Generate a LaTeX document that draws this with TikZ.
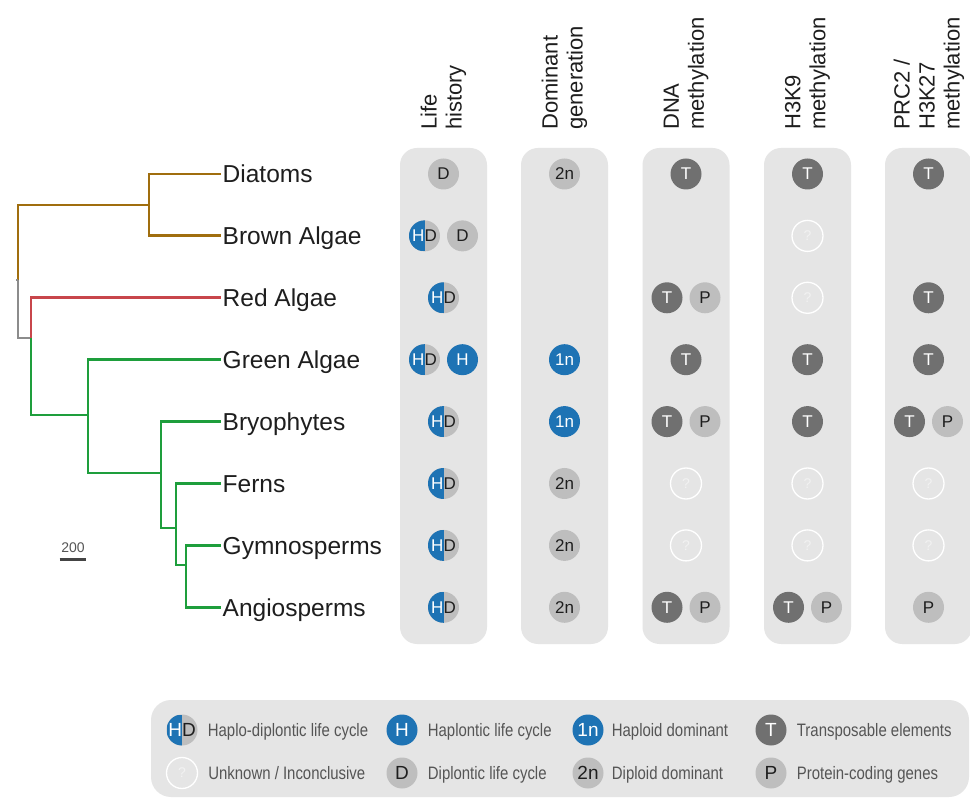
\documentclass[tikz,border=0pt]{standalone}
\usepackage{fontspec}
\setmainfont{Liberation Sans}
\newfontfamily\condfont[FakeStretch=0.83]{Liberation Sans}
\usetikzlibrary{positioning}

\definecolor{panelgray}{RGB}{229,229,229}
\definecolor{hblue}{RGB}{30,115,180}
\definecolor{tdark}{RGB}{112,112,112}
\definecolor{tlight}{RGB}{190,190,190}
\definecolor{qmark}{RGB}{242,242,242}
\definecolor{txtdark}{RGB}{30,30,30}
\definecolor{legtext}{RGB}{85,85,85}
\definecolor{brnb}{RGB}{160,110,14}
\definecolor{redb}{RGB}{200,70,75}
\definecolor{grnb}{RGB}{30,158,60}
\definecolor{gryb}{RGB}{140,140,140}

\newcommand\leaffont{\fontsize{24.5}{28}\selectfont}
\newcommand\headfont{\fontsize{22}{25}\selectfont}
\newcommand\tokfont{\fontsize{17}{17}\selectfont}
\newcommand\legfont{\condfont\fontsize{18}{20}\selectfont}

\begin{document}
\begin{tikzpicture}[
    x=1pt, y=-1pt,
    branch/.style={line width=2.9pt},
    brnline/.style={branch, draw=brnb},
    redline/.style={branch, draw=redb},
    grnline/.style={branch, draw=grnb},
    gryline/.style={branch, draw=gryb},
    leaf/.style={
        anchor=west,
        inner sep=1.5pt,
        font=\leaffont,
        text=txtdark,
        text height=17.5pt,
        text depth=0pt
    },
    head/.style={
        rotate=90,
        anchor=west,
        align=left,
        inner sep=0pt,
        font=\headfont,
        text=txtdark
    },
    panel/.style={
        fill=panelgray,
        rounded corners=17pt,
        minimum width=87pt,
        minimum height=496pt,
        inner sep=0pt
    },
    tok/.style={circle, minimum size=31pt, inner sep=0pt, font=\tokfont},
    tT/.style={tok, fill=tdark, text=white},
    tP/.style={tok, fill=tlight, text=txtdark},
    tD/.style={tP},
    ttwo/.style={tP},
    tH/.style={tok, fill=hblue, text=white},
    tone/.style={tH},
    tq/.style={tok, draw=white, line width=1.3pt, text=qmark,
        font=\fontsize{14}{14}\selectfont},
    thd/.style={tok, fill=tlight, text=txtdark,
        path picture={\fill[hblue] (path picture bounding box.south west)
            rectangle (path picture bounding box.north);}},
    leg/.style={
        font=\legfont,
        text=legtext,
        inner sep=0pt,
        text height=13pt,
        text depth=0pt
    },
    legtok/.style={font=\fontsize{19}{19}\selectfont}
]

\path[use as bounding box, fill=white] (0,0) rectangle (970,799);

% ============================================================
% TREE
% ============================================================
\node[leaf] (diat)  at (221,174)   {Diatoms};
\node[leaf] (brown) at (221,235.9) {Brown Algae};
\node[leaf] (red)   at (221,297.8) {Red Algae};
\node[leaf] (green) at (221,359.7) {Green Algae};
\node[leaf] (bryo)  at (221,421.6) {Bryophytes};
\node[leaf] (fern)  at (221,483.5) {Ferns};
\node[leaf] (gymno) at (221,545.4) {Gymnosperms};
\node[leaf] (angio) at (221,607.3) {Angiosperms};

\coordinate (root)     at (18,280);
\coordinate (rootstub) at (15.5,280);
\coordinate (stram)    at (149,205);
\coordinate (arch)     at (31,338);
\coordinate (viri)     at (88,415);
\coordinate (embr)     at (161,473);
\coordinate (trach)    at (176,528);
\coordinate (seed)     at (186,565);

\draw[brnline] (root) |- (stram);
\draw[brnline] (stram) |- (diat.west);
\draw[brnline] (stram) |- (brown.west);
\draw[gryline] (root) |- (arch);
\draw[gryline] (root) -- (rootstub);
\draw[redline] (arch) |- (red.west);
\draw[grnline] (arch) |- (viri);
\draw[grnline] (viri) |- (green.west);
\draw[grnline] (viri) |- (embr);
\draw[grnline] (embr) |- (bryo.west);
\draw[grnline] (embr) |- (trach);
\draw[grnline] (trach) |- (fern.west);
\draw[grnline] (trach) |- (seed);
\draw[grnline] (seed) |- (gymno.west);
\draw[grnline] (seed) |- (angio.west);

% scale bar
\node[anchor=base, inner xsep=1.5pt, inner ysep=6pt, text=legtext,
      font=\fontsize{14}{14}\selectfont] (sbar) at (73,553) {200};
\draw[line width=2.4pt, legtext!80!black] (sbar.south west) -- (sbar.south east);

% ============================================================
% PANELS AND HEADERS
% ============================================================
\node[panel] (panlh)  at (443.5,396) {};
\node[panel] (pandg)  at (564.5,396) {};
\node[panel] (pandna) at (686,396)   {};
\node[panel] (pank9)  at (807.5,396) {};
\node[panel] (panprc) at (928.5,396) {};

\node[head] (hlh)  at (443.5,130) {Life\\history};
\node[head] (hdg)  at (564.5,130) {Dominant\\generation};
\node[head] (hdna) at (686,130)   {DNA\\methylation};
\node[head] (hk9)  at (807.5,130) {H3K9\\methylation};
\node[head] (hprc) at (929,130)   {PRC2 /\\H3K27\\methylation};

% ============================================================
% LIFE HISTORY
% ============================================================
\node[tD]  (lh1)  at (443.5,174)   {D};
\node[thd] (lh2a) at (424.5,235.9) {\textcolor{white}{H}D};
\node[tD]  (lh2b) at (462.5,235.9) {D};
\node[thd] (lh3)  at (443.5,297.8) {\textcolor{white}{H}D};
\node[thd] (lh4a) at (424.5,359.7) {\textcolor{white}{H}D};
\node[tH]  (lh4b) at (462.5,359.7) {H};
\node[thd] (lh5)  at (443.5,421.6) {\textcolor{white}{H}D};
\node[thd] (lh6)  at (443.5,483.5) {\textcolor{white}{H}D};
\node[thd] (lh7)  at (443.5,545.4) {\textcolor{white}{H}D};
\node[thd] (lh8)  at (443.5,607.3) {\textcolor{white}{H}D};

% ============================================================
% DOMINANT GENERATION
% ============================================================
\node[ttwo] (dg1) at (564.5,174)   {2n};
\node[tone] (dg4) at (564.5,359.7) {1n};
\node[tone] (dg5) at (564.5,421.6) {1n};
\node[ttwo] (dg6) at (564.5,483.5) {2n};
\node[ttwo] (dg7) at (564.5,545.4) {2n};
\node[ttwo] (dg8) at (564.5,607.3) {2n};

% ============================================================
% DNA METHYLATION
% ============================================================
\node[tT] (dna1)  at (686,174)     {T};
\node[tT] (dna3a) at (667,297.8)   {T};
\node[tP] (dna3b) at (705,297.8)   {P};
\node[tT] (dna4)  at (686,359.7)   {T};
\node[tT] (dna5a) at (667,421.6)   {T};
\node[tP] (dna5b) at (705,421.6)   {P};
\node[tq] (dna6)  at (686,483.5)   {?};
\node[tq] (dna7)  at (686,545.4)   {?};
\node[tT] (dna8a) at (667,607.3)   {T};
\node[tP] (dna8b) at (705,607.3)   {P};

% ============================================================
% H3K9 METHYLATION
% ============================================================
\node[tT] (k91)  at (807.5,174)   {T};
\node[tq] (k92)  at (807.5,235.9) {?};
\node[tq] (k93)  at (807.5,297.8) {?};
\node[tT] (k94)  at (807.5,359.7) {T};
\node[tT] (k95)  at (807.5,421.6) {T};
\node[tq] (k96)  at (807.5,483.5) {?};
\node[tq] (k97)  at (807.5,545.4) {?};
\node[tT] (k98a) at (788.5,607.3) {T};
\node[tP] (k98b) at (826.5,607.3) {P};

% ============================================================
% PRC2 / H3K27 METHYLATION
% ============================================================
\node[tT] (prc1)  at (928.5,174)   {T};
\node[tT] (prc3)  at (928.5,297.8) {T};
\node[tT] (prc4)  at (928.5,359.7) {T};
\node[tT] (prc5a) at (909.5,421.6) {T};
\node[tP] (prc5b) at (947.5,421.6) {P};
\node[tq] (prc6)  at (928.5,483.5) {?};
\node[tq] (prc7)  at (928.5,545.4) {?};
\node[tP] (prc8)  at (928.5,607.3) {P};

% ============================================================
% LEGEND
% ============================================================
\node[fill=panelgray, rounded corners=20pt, minimum width=818pt,
      minimum height=97pt, inner sep=0pt] (legbox) at (560,748.5) {};

\node[thd, legtok]  (lg1) at (182,730) {\textcolor{white}{H}D};
\node[tq]           (lg2) at (182,773) {?};
\node[tH, legtok]   (lg3) at (402,730) {H};
\node[tD, legtok]   (lg4) at (402,773) {D};
\node[tone, legtok] (lg5) at (588,730) {1n};
\node[ttwo, legtok] (lg6) at (588,773) {2n};
\node[tT, legtok]   (lg7) at (771,730) {T};
\node[tP, legtok]   (lg8) at (771,773) {P};

\node[leg, right=10pt of lg1] (lt1) {Haplo-diplontic life cycle};
\node[leg, right=10pt of lg2] (lt2) {Unknown / Inconclusive};
\node[leg, right=10pt of lg3] (lt3) {Haplontic life cycle};
\node[leg, right=10pt of lg4] (lt4) {Diplontic life cycle};
\node[leg, right=8pt of lg5]  (lt5) {Haploid dominant};
\node[leg, right=8pt of lg6]  (lt6) {Diploid dominant};
\node[leg, right=10pt of lg7] (lt7) {Transposable elements};
\node[leg, right=10pt of lg8] (lt8) {Protein-coding genes};

\end{tikzpicture}
\end{document}
